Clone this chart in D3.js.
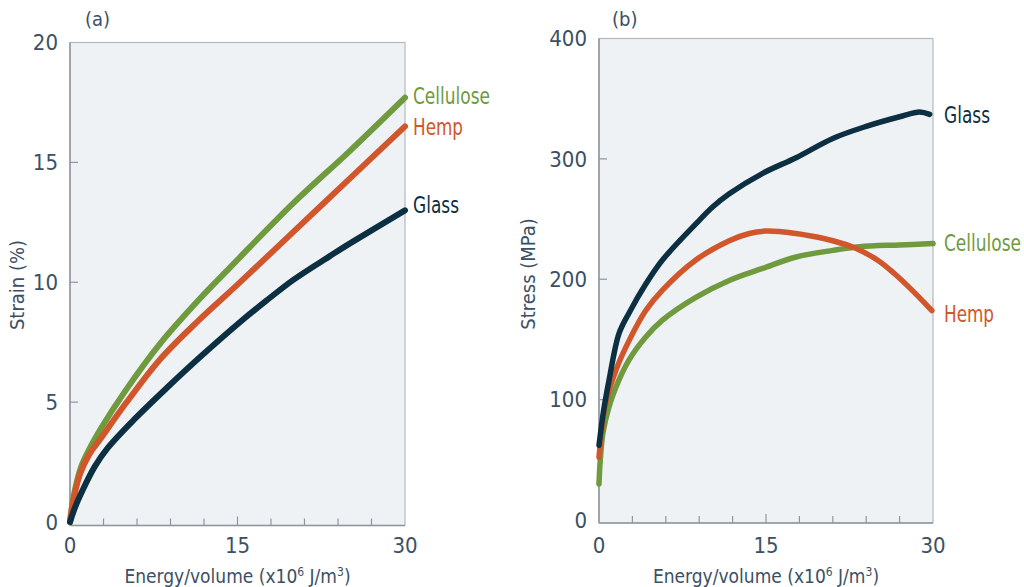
<!DOCTYPE html>
<html>
<head>
<meta charset="utf-8">
<script src="https://cdn.jsdelivr.net/npm/d3@7"></script>
<style>
  body { margin: 0; background: #fff; }
  svg { display: block; }
  text { font-family: "DejaVu Sans Condensed", "Liberation Sans Narrow", sans-serif; fill: #3b5064; }
</style>
</head>
<body>
<div id="chart"></div>
<script>
// Energy/volume ticks (x10^6 J/m^3), shared by both panels
const energyTicks = [0, 15, 30];
const energyMinorTicks = [3, 6, 9, 12, 18, 21, 24, 27];
const strainTicks = [0, 5, 10, 15, 20];
const stressTicks = [0, 100, 200, 300, 400];
const seriesNames = ["Cellulose", "Hemp", "Glass"];

// (a) strain (%) vs energy/volume
const strainCellulose = [[0, 0], [0.3, 1.0], [1, 2.3], [1.8, 3.1], [2.7, 3.85], [5, 5.5], [8, 7.4], [11.6, 9.3], [14.3, 10.6], [20, 13.3], [25, 15.45], [30, 17.7]];
const strainHemp = [[0, 0], [0.3, 0.9], [0.9, 2.0], [1.7, 2.8], [2.7, 3.45], [5, 4.95], [8, 6.75], [11.5, 8.4], [15, 9.9], [20, 12.1], [25, 14.3], [30, 16.5]];
const strainGlass = [[0, 0], [0.4, 0.55], [1, 1.2], [2.2, 2.3], [3.4, 3.1], [5.8, 4.3], [8.8, 5.65], [11.7, 6.9], [15, 8.25], [17.5, 9.2], [20, 10.1], [23.3, 11.1], [25, 11.6], [30, 13.0]];

// (b) stress (MPa) vs energy/volume
const stressCellulose = [[0, 30], [0.1, 48], [0.35, 72], [0.9, 94], [1.5, 110], [2.7, 133], [4.2, 152], [5.7, 166], [8.7, 185], [11.7, 199], [14.7, 209], [17.7, 218.5], [21, 224], [23.4, 227], [27, 228.5], [30, 229.6]];
const stressHemp = [[0, 52], [0.25, 75], [0.6, 97], [1.5, 124], [2.7, 149], [4.2, 174], [5.7, 191], [8.7, 216], [11.7, 232], [13.5, 238], [15, 240], [17.7, 238], [19, 236], [21, 232], [23, 226], [25, 216], [26.5, 205], [28, 192], [29.9, 174]];
const stressGlass = [[0, 62], [0.4, 90], [0.9, 116], [1.8, 155], [2.7, 172], [4.2, 196], [5.7, 216], [8.7, 246], [10.2, 260], [11.7, 271], [14.7, 288], [17.7, 301], [21, 317], [24, 327], [27, 335], [28.8, 339], [29.7, 337]];

const colors = { Cellulose: "#6f9a3e", Hemp: "#d1562b", Glass: "#0c3042" };
// label widths in the reference are narrow, squeeze to fit
const labelWidths = { Cellulose: 77, Hemp: 50, Glass: 46 };

const svg = d3.select("#chart").append("svg")
  .attr("width", 1024)
  .attr("height", 587);

// Draw one panel
function drawPanel(cfg) {
  const x = d3.scaleLinear().domain([0, 30]).range([cfg.left, cfg.right]);
  const y = d3.scaleLinear().domain(cfg.yDomain).range([cfg.bottom, cfg.top]);
  const g = svg.append("g");
  const axisY = cfg.bottom + cfg.axisGap;

  // plot background with border
  g.append("rect")
    .attr("x", cfg.left)
    .attr("y", cfg.top)
    .attr("width", cfg.right - cfg.left)
    .attr("height", axisY - cfg.top)
    .attr("fill", "#eef2f5")
    .attr("stroke", "#b3b9bf")
    .attr("stroke-width", 1.2);

  // left and bottom axis lines a bit darker
  g.append("line")
    .attr("x1", cfg.left).attr("x2", cfg.right)
    .attr("y1", axisY).attr("y2", axisY)
    .attr("stroke", "#8e969e").attr("stroke-width", 1.5);
  g.append("line")
    .attr("x1", cfg.left).attr("x2", cfg.left)
    .attr("y1", cfg.top).attr("y2", axisY)
    .attr("stroke", "#8e969e").attr("stroke-width", 1.5);

  // x ticks pointing inward
  g.selectAll(".xtick")
    .data(energyMinorTicks.concat([15]))
    .enter().append("line")
    .attr("x1", (d) => x(d)).attr("x2", (d) => x(d))
    .attr("y1", axisY)
    .attr("y2", (d) => axisY - (d === 15 ? 9 : 7))
    .attr("stroke", "#8e969e").attr("stroke-width", 1.2);

  g.selectAll(".xlabel")
    .data(energyTicks)
    .enter().append("text")
    .attr("x", (d) => x(d))
    .attr("y", 553)
    .attr("text-anchor", "middle")
    .attr("font-size", "22px")
    .text((d) => d);

  // y ticks pointing inward
  const yT = cfg.yTicks;
  g.selectAll(".ytick")
    .data(yT.slice(1, -1))
    .enter().append("line")
    .attr("x1", cfg.left).attr("x2", cfg.left + 8)
    .attr("y1", (d) => y(d)).attr("y2", (d) => y(d))
    .attr("stroke", "#8e969e").attr("stroke-width", 1.2);

  g.selectAll(".ylabel")
    .data(yT)
    .enter().append("text")
    .attr("x", cfg.left - 12)
    .attr("y", (d) => y(d))
    .attr("dy", "0.35em")
    .attr("text-anchor", "end")
    .attr("font-size", "22px")
    .text((d) => d);

  // axis titles
  g.append("text")
    .attr("x", (cfg.left + cfg.right) / 2)
    .attr("y", 583)
    .attr("text-anchor", "middle")
    .attr("font-size", "19px")
    .html("Energy/volume (x10<tspan dy='-7' font-size='12px'>6</tspan><tspan dy='7'> J/m</tspan><tspan dy='-7' font-size='12px'>3</tspan><tspan dy='7'>)</tspan>");

  g.append("text")
    .attr("transform", `translate(${cfg.yTitleX},${cfg.yTitleY}) rotate(-90)`)
    .attr("text-anchor", "middle")
    .attr("font-size", "20px")
    .text(cfg.yTitle);

  // panel letter
  g.append("text")
    .attr("x", cfg.letterX)
    .attr("y", 26)
    .attr("font-size", "20px")
    .text(cfg.letter);

  // lines
  const line = d3.line()
    .x((d) => x(d[0]))
    .y((d) => y(d[1]))
    .curve(d3.curveCatmullRom.alpha(0.5));

  cfg.series.forEach((s) => {
    g.append("path")
      .datum(s.values)
      .attr("d", line)
      .attr("fill", "none")
      .attr("stroke", colors[s.name])
      .attr("stroke-width", cfg.lineWidth)
      .attr("stroke-linecap", "round")
      .attr("stroke-linejoin", "round");
  });

  // series labels at line ends, squeezed horizontally to the reference width
  cfg.series.forEach((s) => {
    const last = s.values[s.values.length - 1];
    const lx = cfg.right + cfg.labelGap;
    const ly = y(last[1]) + (s.dy || 0);
    const label = g.append("text")
      .attr("dy", "0.35em")
      .attr("font-size", "23px")
      .style("fill", colors[s.name])
      .text(s.name);
    const natural = label.node().getComputedTextLength();
    const k = labelWidths[s.name] / natural;
    label.attr("transform", `translate(${lx},${ly}) scale(${k},1)`);
  });
}

drawPanel({
  left: 70, right: 405, top: 42.5, bottom: 522, axisGap: 3.5,
  yDomain: [0, 20], yTicks: strainTicks,
  yTitle: "Strain (%)", yTitleX: 24, yTitleY: 285,
  letter: "(a)", letterX: 85,
  lineWidth: 6, labelGap: 8,
  series: [
    { name: seriesNames[0], values: strainCellulose, dy: -2 },
    { name: seriesNames[1], values: strainHemp, dy: 1 },
    { name: seriesNames[2], values: strainGlass, dy: -5 },
  ],
});

drawPanel({
  left: 599, right: 933, top: 38.5, bottom: 520, axisGap: 3,
  yDomain: [0, 400], yTicks: stressTicks,
  yTitle: "Stress (MPa)", yTitleX: 535, yTitleY: 274,
  letter: "(b)", letterX: 612,
  lineWidth: 5.5, labelGap: 11,
  series: [
    { name: seriesNames[0], values: stressCellulose, dy: -1 },
    { name: seriesNames[1], values: stressHemp, dy: 3 },
    { name: seriesNames[2], values: stressGlass, dy: 1 },
  ],
});
</script>
</body>
</html>
